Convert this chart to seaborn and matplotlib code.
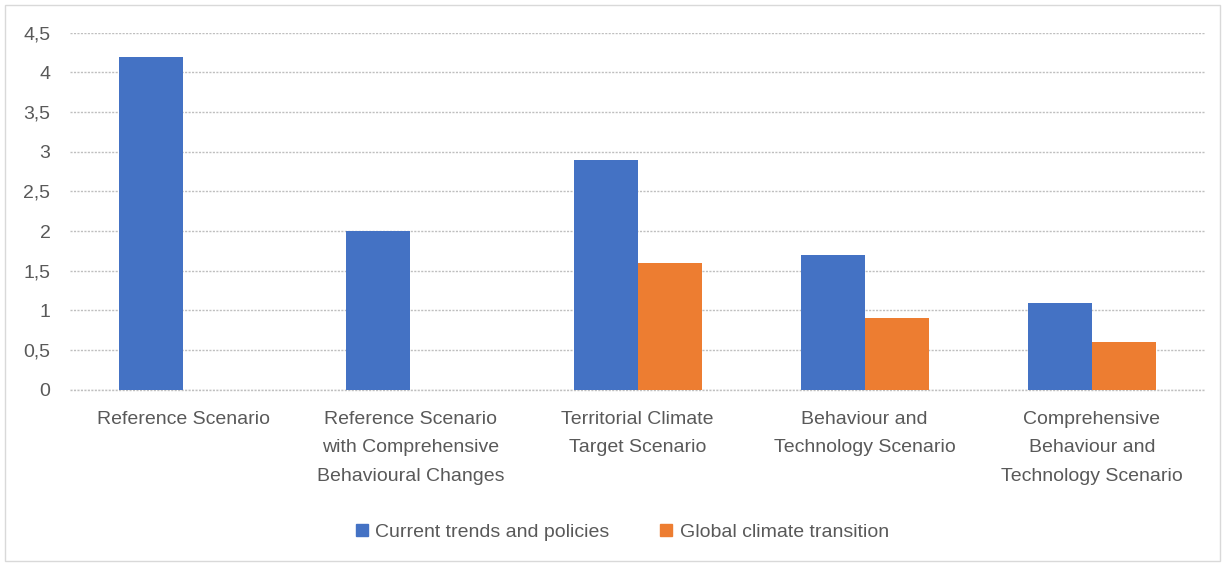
import matplotlib
matplotlib.use("Agg")
import matplotlib.pyplot as plt
import matplotlib.patches as mpatches
import matplotlib.ticker as mticker
import seaborn as sns
import pandas as pd
import numpy as np

categories = [
    "Reference Scenario",
    "Reference Scenario\nwith Comprehensive\nBehavioural Changes",
    "Territorial Climate\nTarget Scenario",
    "Behaviour and\nTechnology Scenario",
    "Comprehensive\nBehaviour and\nTechnology Scenario",
]
series_names = ["Current trends and policies", "Global climate transition"]
current_trends = [4.2, 2.0, 2.9, 1.7, 1.1]
global_transition = [np.nan, np.nan, 1.6, 0.9, 0.6]
colors = ["#4472C4", "#ED7D31"]
y_ticks = [0, 0.5, 1, 1.5, 2, 2.5, 3, 3.5, 4, 4.5]

df = pd.DataFrame({
    "category": categories * 2,
    "series": [series_names[0]] * 5 + [series_names[1]] * 5,
    "value": current_trends + global_transition,
})

sns.set_theme(style="white")
plt.rcParams["font.family"] = ["Liberation Sans", "DejaVu Sans"]
text_color = "#595959"
grid_style = dict(color="#BFBFBF", linestyle=(0, (1.5, 1)), linewidth=1.0)

fig = plt.figure(figsize=(12.25, 5.65), dpi=100)
ax = fig.add_axes([0.057, 0.31, 0.927, 0.632])

sns.barplot(data=df, x="category", y="value", hue="series", order=categories,
            hue_order=series_names, palette=colors, width=0.564, gap=0,
            errorbar=None, ax=ax, saturation=1, legend=False, linewidth=0)

ax.set_ylim(0, 4.5)
ax.set_xlim(-0.5, 4.5)
ax.set_yticks(y_ticks)
ax.yaxis.set_major_formatter(mticker.FuncFormatter(
    lambda v, p: (f"{v:g}").replace(".", ",")))
ax.grid(axis="y", **grid_style)
ax.axhline(0, zorder=0.5, clip_on=False, **grid_style)
ax.set_axisbelow(True)
for s in ax.spines.values():
    s.set_visible(False)
ax.set_xlabel("")
ax.set_ylabel("")
ax.tick_params(axis="both", length=0, colors=text_color, labelsize=14)
ax.tick_params(axis="y", pad=14)
ax.tick_params(axis="x", pad=15)
ax.set_xticks(range(len(categories)))
ax.set_xticklabels(categories, linespacing=1.9, color=text_color, fontsize=14)

handles = [mpatches.Patch(color=c, label=n) for c, n in zip(colors, series_names)]
leg = fig.legend(handles=handles, loc="center", bbox_to_anchor=(0.508, 0.058),
                 ncol=2, frameon=False, fontsize=14, handlelength=0.6,
                 handleheight=0.6, handletextpad=0.4, columnspacing=2.6)
for t in leg.get_texts():
    t.set_color(text_color)

border = mpatches.Rectangle((0.004, 0.007), 0.992, 0.985, transform=fig.transFigure,
                            fill=False, edgecolor="#D9D9D9", linewidth=1.0)
fig.patches.append(border)

fig.savefig("out.png", dpi=100)
